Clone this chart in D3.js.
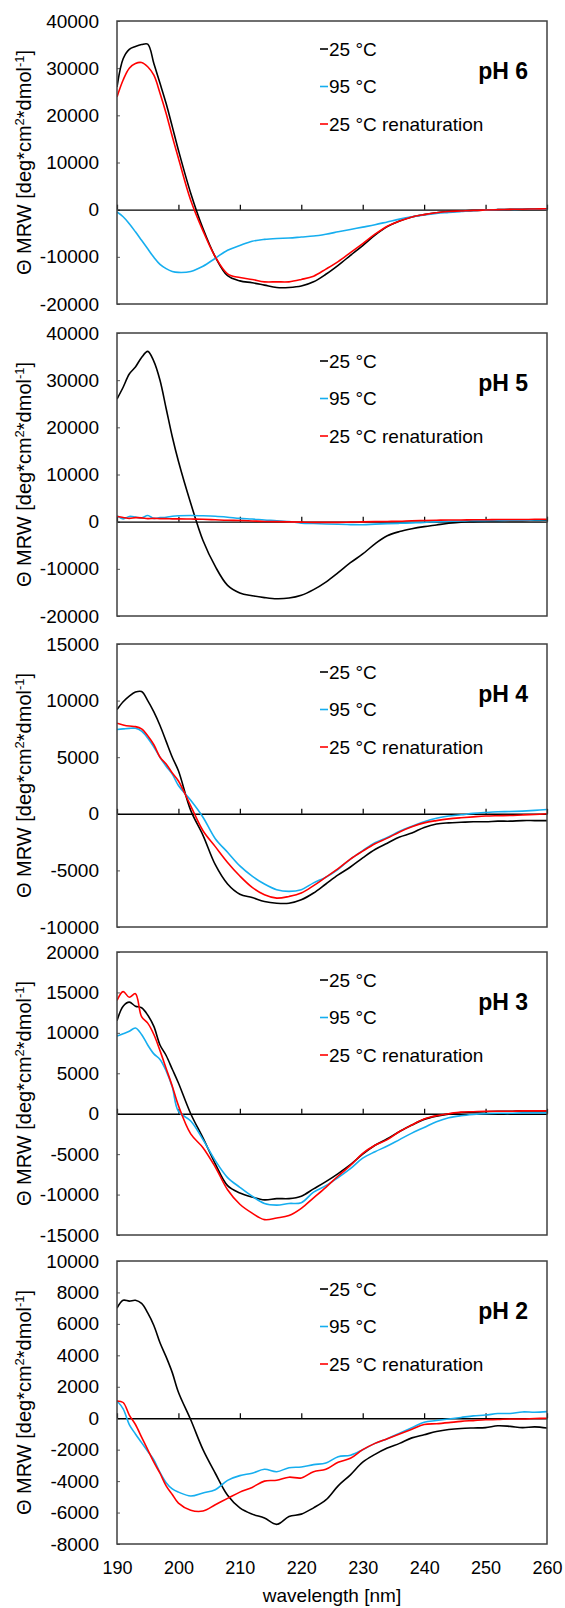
<!DOCTYPE html>
<html>
<head>
<meta charset="utf-8">
<script src="https://cdn.jsdelivr.net/npm/d3@7/dist/d3.min.js"></script>
<style>
  body { margin: 0; background: #fff; }
  text { font-family: "Liberation Sans", Arial, sans-serif; fill: #000; }
</style>
</head>
<body>
<script>
// wavelength [nm], 1 nm steps up to 200, then 2 nm
var wavelength = [190,191,192,193,194,195,196,197,198,199,200,
  202,204,206,208,210,212,214,216,218,220,
  222,224,226,228,230,232,234,236,238,240,
  242,244,246,248,250,252,254,256,258,260];

var xTicks = [190,200,210,220,230,240,250,260];

// pH 6
var ph6_25 = [26000,32000,34000,34600,35000,35100,31000,26800,22500,17600,12600,
  3500,-4000,-10000,-14000,-15100,-15500,-16000,-16500,-16500,-16200,
  -15300,-13700,-11800,-9700,-7600,-5400,-3600,-2400,-1550,-1050,
  -650,-400,-280,-150,-70,0,70,100,150,150];
var ph6_95 = [-500,-1500,-3000,-4700,-6500,-8300,-10100,-11600,-12500,-13100,-13300,
  -13100,-12000,-10300,-8600,-7600,-6700,-6300,-6100,-6000,-5800,
  -5600,-5200,-4700,-4200,-3700,-3200,-2600,-2000,-1500,-1100,
  -800,-600,-400,-200,-100,0,50,100,100,100];
var ph6_ren = [23900,27500,30000,31000,31200,30300,28500,24700,20400,15500,10900,
  2000,-4500,-10000,-13600,-14400,-14800,-15300,-15300,-15300,-14800,
  -14100,-12600,-11000,-9100,-7200,-5200,-3500,-2400,-1550,-1050,
  -650,-400,-280,-150,-70,0,70,100,150,200];

// pH 5
var ph5_25 = [26000,28500,31300,32800,34800,36100,34000,30000,24000,18000,12800,
  3900,-4000,-9500,-13500,-15100,-15700,-16100,-16350,-16200,-15600,
  -14400,-12800,-10800,-8700,-6850,-4700,-3000,-2100,-1500,-1050,
  -700,-350,-100,0,100,150,200,200,250,300];
var ph5_95 = [1250,600,1100,1000,800,1300,700,850,950,1150,1250,
  1300,1250,1150,950,700,550,350,200,0,-300,
  -400,-480,-560,-620,-640,-520,-420,-350,-250,-150,
  0,80,150,200,200,250,300,300,350,400];
var ph5_ren = [1100,900,700,850,800,650,700,650,650,600,600,
  550,500,400,300,250,150,50,0,-50,-100,
  -150,-150,-150,-100,-50,0,50,100,200,250,
  300,350,350,400,400,450,450,450,500,500];

// pH 4
var ph4_25 = [9200,9900,10400,10750,10800,10000,9000,7800,6400,5000,3800,
  300,-1900,-4500,-6200,-7100,-7400,-7750,-7900,-7900,-7600,
  -7000,-6200,-5400,-4700,-3900,-3150,-2600,-2050,-1700,-1200,
  -900,-800,-750,-700,-700,-650,-650,-600,-600,-600];
var ph4_95 = [7450,7500,7550,7550,7300,6700,5900,5000,4200,3500,2500,
  1200,-300,-2200,-3400,-4600,-5500,-6200,-6700,-6850,-6700,
  -6100,-5600,-4900,-4000,-3250,-2550,-2100,-1550,-1100,-700,
  -400,-200,-90,40,120,180,200,240,300,380];
var ph4_ren = [8000,7850,7750,7700,7500,6900,6100,5000,4400,3600,2900,
  700,-1500,-2900,-4300,-5500,-6500,-7150,-7450,-7300,-7000,
  -6350,-5600,-4850,-4000,-3300,-2650,-2150,-1600,-1150,-800,
  -600,-450,-350,-270,-200,-170,-150,-100,-60,0];

// pH 3
var ph3_25 = [11500,13300,13800,13300,13100,12200,10800,8500,7200,5500,3800,
  0,-3000,-6200,-8900,-9800,-10300,-10650,-10500,-10500,-10200,
  -9300,-8400,-7400,-6300,-5000,-3900,-3100,-2200,-1400,-700,
  -300,-50,150,200,250,300,300,350,350,350];
var ph3_95 = [9600,9900,10200,10600,9800,8500,7400,6700,5300,3300,300,
  -900,-3200,-5800,-7900,-9100,-10200,-11100,-11300,-11100,-11000,
  -9700,-8900,-7900,-6800,-5500,-4700,-4000,-3200,-2400,-1700,
  -1000,-500,-250,-100,0,50,50,100,100,100];
var ph3_ren = [14000,15100,14400,14850,12000,11200,9800,7800,5600,3400,1000,
  -2500,-4200,-6600,-9400,-11200,-12300,-13100,-12900,-12600,-11700,
  -10400,-9100,-7700,-6400,-4900,-3900,-3200,-2200,-1400,-650,
  -250,0,200,250,300,300,300,350,350,350];

// pH 2
var ph2_25 = [7000,7500,7450,7500,7300,6700,5900,4800,3900,2900,1650,
  -100,-2000,-3500,-4900,-5700,-6100,-6350,-6750,-6250,-6100,
  -5700,-5200,-4300,-3600,-2800,-2300,-1900,-1600,-1250,-1050,
  -850,-720,-650,-620,-600,-480,-520,-600,-550,-620];
var ph2_95 = [1100,600,-400,-1000,-1550,-2100,-2650,-3450,-4100,-4500,-4700,
  -4950,-4750,-4550,-3950,-3650,-3500,-3250,-3400,-3150,-3100,
  -2950,-2850,-2450,-2350,-2000,-1600,-1300,-950,-600,-250,
  -150,-50,50,150,200,300,300,400,380,420];
var ph2_ren = [1100,1000,200,-400,-1200,-2000,-2800,-3500,-4300,-4850,-5400,
  -5850,-5900,-5500,-5100,-4700,-4400,-4000,-3950,-3750,-3800,
  -3400,-3250,-2800,-2550,-2000,-1600,-1300,-1000,-700,-400,
  -350,-280,-200,-150,-100,-80,-50,-50,-20,0];

var yTicks6 = [-20000,-10000,0,10000,20000,30000,40000];
var yTicks5 = [-20000,-10000,0,10000,20000,30000,40000];
var yTicks4 = [-10000,-5000,0,5000,10000,15000];
var yTicks3 = [-15000,-10000,-5000,0,5000,10000,15000,20000];
var yTicks2 = [-8000,-6000,-4000,-2000,0,2000,4000,6000,8000,10000];

var phLabels = ["pH 6", "pH 5", "pH 4", "pH 3", "pH 2"];
var seriesNames = ["25 °C", "95 °C", "25 °C renaturation"];
var seriesColors = ["#000000", "#16aeef", "#ff0000"];

var panels = [
  {label: phLabels[0], ticks: yTicks6, series: [ph6_25, ph6_95, ph6_ren]},
  {label: phLabels[1], ticks: yTicks5, series: [ph5_25, ph5_95, ph5_ren]},
  {label: phLabels[2], ticks: yTicks4, series: [ph4_25, ph4_95, ph4_ren]},
  {label: phLabels[3], ticks: yTicks3, series: [ph3_25, ph3_95, ph3_ren]},
  {label: phLabels[4], ticks: yTicks2, series: [ph2_25, ph2_95, ph2_ren]}
];

// layout
var W = 565, H = 1608;
var left = 117, right = 547, plotH = 283;
var panelTops = [21, 333, 644, 952, 1261];

var svg = d3.select("body").append("svg")
    .attr("width", W)
    .attr("height", H);

var x = d3.scaleLinear().domain([190, 260]).range([left, right]);

panels.forEach(function(p, i) {
    var top = panelTops[i];
    var y = d3.scaleLinear()
        .domain(d3.extent(p.ticks))
        .range([top + plotH, top]);

    var g = svg.append("g").attr("class", "panel");

    g.append("clipPath").attr("id", "clip" + i)
      .append("rect")
        .attr("x", left).attr("y", top)
        .attr("width", right - left).attr("height", plotH);

    // y axis labels + small inner ticks
    var ya = g.append("g")
        .attr("transform", "translate(" + left + ",0)")
        .call(d3.axisLeft(y)
            .tickValues(p.ticks)
            .tickSizeInner(-3)
            .tickSizeOuter(0)
            .tickPadding(18)
            .tickFormat(function(d) { return String(d); }));
    ya.select(".domain").remove();
    ya.selectAll("line").attr("stroke", "#595959");
    ya.selectAll("text")
        .attr("font-family", "Liberation Sans, Arial, sans-serif")
        .attr("font-size", "19px");

    // zero line with upward ticks
    var za = g.append("g")
        .attr("transform", "translate(0," + y(0) + ")")
        .call(d3.axisBottom(x)
            .tickValues(xTicks)
            .tickSizeInner(-5)
            .tickSizeOuter(0)
            .tickFormat(""));
    za.select(".domain").attr("stroke", "#000").attr("stroke-width", 1.4);
    za.selectAll("line").attr("stroke", "#000").attr("stroke-width", 1.2);

    // curves
    var line = d3.line()
        .x(function(d, k) { return x(wavelength[k]); })
        .y(function(d) { return y(d); })
        .curve(d3.curveCatmullRom.alpha(0.5));

    g.append("g").attr("clip-path", "url(#clip" + i + ")")
      .selectAll("path")
      .data(p.series)
      .enter().append("path")
        .attr("d", line)
        .attr("fill", "none")
        .attr("stroke", function(d, k) { return seriesColors[k]; })
        .attr("stroke-width", 1.6)
        .attr("stroke-linejoin", "round");

    // frame
    g.append("rect")
        .attr("x", left).attr("y", top)
        .attr("width", right - left).attr("height", plotH)
        .attr("fill", "none")
        .attr("stroke", "#404040")
        .attr("stroke-width", 1.5);

    // legend
    var lg = g.append("g");
    seriesNames.forEach(function(name, k) {
        var ly = top + 28 + k * 37.5;
        lg.append("line")
            .attr("x1", 320).attr("x2", 328)
            .attr("y1", ly).attr("y2", ly)
            .attr("stroke", seriesColors[k])
            .attr("stroke-width", 1.6);
        lg.append("text")
            .attr("x", 329).attr("y", ly)
            .attr("dy", "0.35em")
            .attr("font-size", "19px")
            .text(name);
    });

    g.append("text")
        .attr("x", 528).attr("y", top + 58)
        .attr("text-anchor", "end")
        .attr("font-size", "23px")
        .attr("font-weight", "bold")
        .text(p.label);

    // y title
    var yt = g.append("text")
        .attr("transform", "translate(31," + (top + plotH / 2) + ") rotate(-90)")
        .attr("text-anchor", "middle")
        .attr("font-size", "20px");
    yt.append("tspan").text("\u0398 MRW [deg*cm");
    yt.append("tspan").attr("baseline-shift", "super").attr("font-size", "13px").text("2");
    yt.append("tspan").text("*dmol");
    yt.append("tspan").attr("baseline-shift", "super").attr("font-size", "13px").text("-1");
    yt.append("tspan").text("]");

    if (i === panels.length - 1) {
        var xa = g.append("g")
            .attr("transform", "translate(0," + (top + plotH) + ")")
            .call(d3.axisBottom(x)
                .tickValues(xTicks)
                .tickSize(0)
                .tickPadding(17)
                .tickFormat(function(d) { return String(d); }));
        xa.select(".domain").remove();
        xa.selectAll("text")
            .attr("font-family", "Liberation Sans, Arial, sans-serif")
            .attr("font-size", "18px");
    }
});

svg.append("text")
    .attr("x", (left + right) / 2)
    .attr("y", 1602)
    .attr("text-anchor", "middle")
    .attr("font-size", "19px")
    .text("wavelength [nm]");
</script>
</body>
</html>
